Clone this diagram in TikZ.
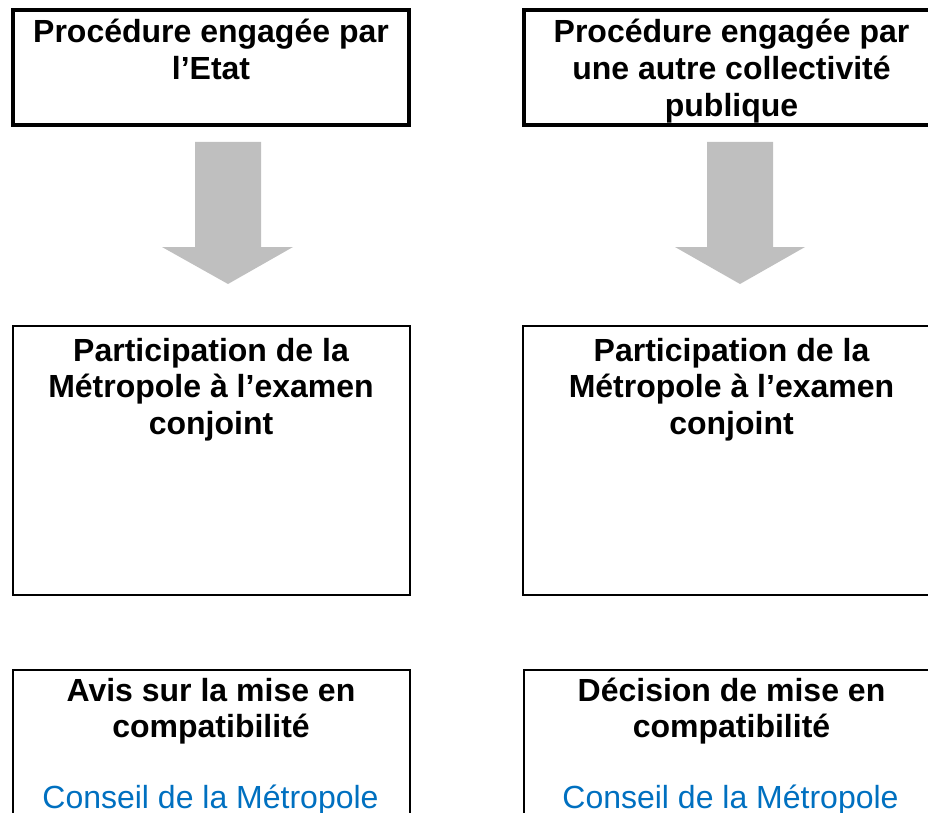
\documentclass[tikz,border=0pt]{standalone}
\usepackage{fontspec}
\setmainfont{Liberation Sans}
\definecolor{arrowgray}{HTML}{BFBFBF}
\definecolor{conseilblue}{HTML}{0070C0}
\tikzset{
  thickbox/.style={draw=black, line width=4pt},
  thinbox/.style={draw=black, line width=2pt},
  txt/.style={align=center, inner sep=0pt, anchor=base, font=\fontsize{32}{36.8}\selectfont\bfseries},
  bluetxt/.style={inner sep=0pt, anchor=base, text=conseilblue, font=\fontsize{32}{36.8}\selectfont},
  blockarrow/.style={fill=arrowgray, draw=none}
}
\begin{document}
\begin{tikzpicture}[x=1pt,y=-1pt]
\useasboundingbox (0,0) rectangle (928,813);
\begin{scope}
\clip (0,0) rectangle (928,813);
% boxes
\draw[thickbox] (13,10) rectangle (409,125);
\draw[thickbox] (524,10) rectangle (945,125);
\draw[thinbox] (13,326) rectangle (410,595);
\draw[thinbox] (523,326) rectangle (945,595);
\draw[thinbox] (13,670) rectangle (410,840);
\draw[thinbox] (524,670) rectangle (945,840);
% block arrows
\fill[blockarrow] (195,142) -- (261,142) -- (261,247) -- (293,247) -- (228,284) -- (162,247) -- (195,247) -- cycle;
\fill[blockarrow] (707,142) -- (773,142) -- (773,247) -- (805,247) -- (740,284) -- (675,247) -- (707,247) -- cycle;
% texts (base anchor = baseline of last line)
\node[txt] (t1) at (211,79.8) {Procédure engagée par\\l’Etat};
\node[txt] (t2) at (731.5,116.6) {Procédure engagée par\\une autre collectivité\\publique};
\node[txt] (m1) at (211,434.6) {Participation de la\\Métropole à l’examen\\conjoint};
\node[txt] (m2) at (731.5,434.6) {Participation de la\\Métropole à l’examen\\conjoint};
\node[txt] (b1) at (211,737.8) {Avis sur la mise en\\compatibilité};
\node[txt] (b2) at (731.5,737.8) {Décision de mise en\\compatibilité};
\node[bluetxt] (c1) at (210.5,808) {Conseil de la Métropole};
\node[bluetxt] (c2) at (730.5,808) {Conseil de la Métropole};
\end{scope}
\end{tikzpicture}
\end{document}
